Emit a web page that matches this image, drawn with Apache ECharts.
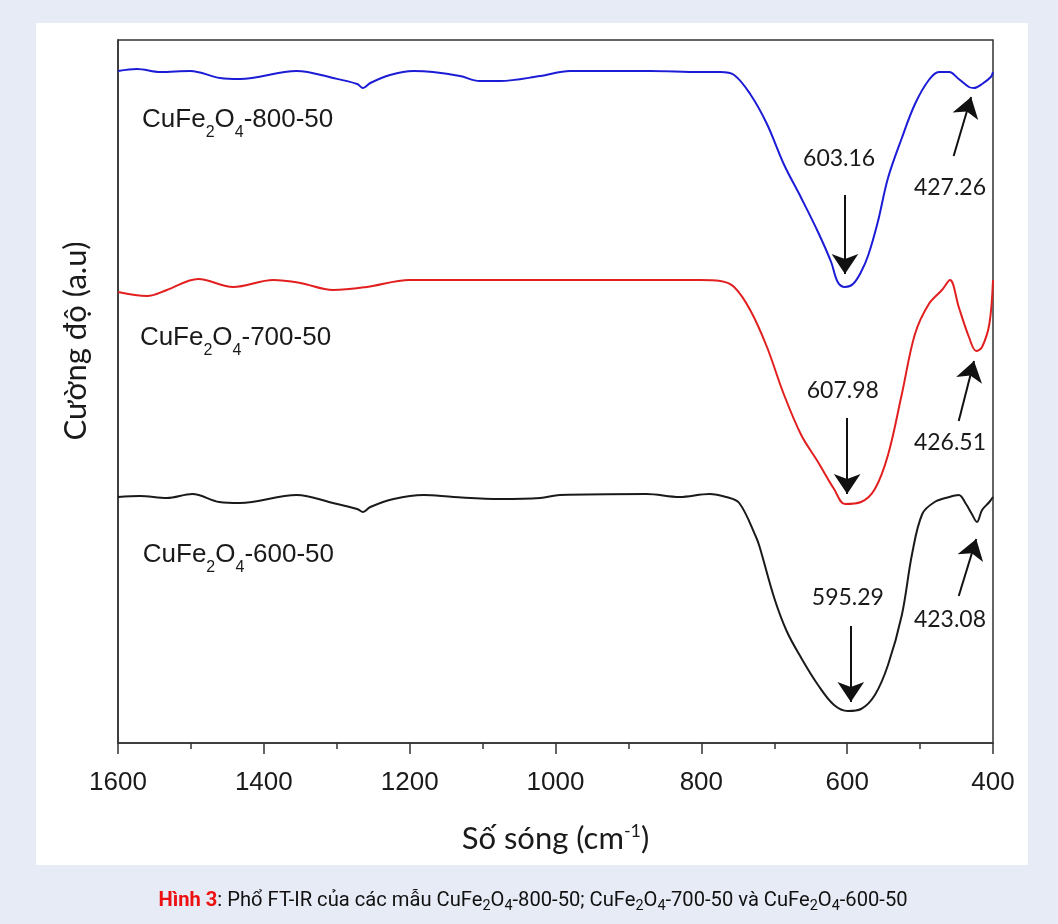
<!DOCTYPE html>
<html>
<head>
<meta charset="utf-8">
<script src="https://cdn.jsdelivr.net/npm/echarts@6/dist/echarts.min.js"></script>
<style>
  html, body { margin: 0; padding: 0; background: #e7ebf6; }
  #ftirChart { width: 1058px; height: 924px; }
</style>
</head>
<body>
<div id="ftirChart"></div>
<script>
// wavenumber (cm-1) and intensity (a.u, offset)
const wn800 = [1600, 1574, 1542, 1501, 1460, 1433, 1355, 1305, 1272, 1264, 1254, 1227, 1195, 1168, 1131, 1104, 1076, 1021, 980, 870,
    802, 774, 755, 733, 710, 687, 663, 640, 622, 613, 603, 592, 581, 571, 558, 544, 525, 507, 488, 474, 460, 447, 433, 426, 415, 403, 400];
const int800 = [67.2, 67.4, 67.1, 67.2, 66.5, 66.4, 67.2, 66.5, 65.9, 65.5, 66.0, 66.8, 67.2, 67.1, 66.7, 66.2, 66.2, 66.7, 67.2, 67.2,
    67.1, 67.1, 66.8, 64.9, 61.9, 57.9, 54.5, 51.1, 48.1, 46.1, 45.6, 45.9, 47.1, 48.8, 52.1, 56.5, 60.5, 63.9, 66.3, 67.1, 67.1, 66.4, 65.6, 65.5, 65.9, 66.6, 67.1];

const wn700 = [1600, 1560, 1533, 1490, 1442, 1387, 1350, 1305, 1259, 1200, 1076, 900, 802, 774, 755, 733, 710, 687, 663, 640,
    618, 603, 581, 562, 544, 525, 507, 488, 470, 459, 447, 433, 423, 415, 405, 400];
const int700 = [45.1, 44.7, 45.3, 46.4, 45.6, 46.3, 46.0, 45.3, 45.6, 46.3, 46.3, 46.3, 46.3, 46.2, 45.6, 43.3, 39.6, 34.9, 30.8, 28.1,
    25.4, 23.9, 24.1, 25.4, 28.8, 34.9, 40.9, 43.9, 45.3, 46.3, 43.6, 40.6, 39.2, 39.6, 41.9, 46.3];

const wn600 = [1600, 1570, 1533, 1498, 1461, 1433, 1355, 1305, 1272, 1264, 1254, 1222, 1181, 1140, 1076, 1021, 994, 875, 830, 789,
    766, 748, 725, 720, 700, 683, 663, 640, 618, 599, 581, 562, 544, 525, 511, 497, 480, 460, 447, 437, 429, 422, 415, 405, 400];
const int600 = [24.6, 24.7, 24.5, 24.9, 24.1, 24.0, 24.8, 24.0, 23.4, 23.1, 23.6, 24.4, 24.8, 24.6, 24.4, 24.5, 24.8, 24.9, 24.6, 24.9,
    24.6, 24.0, 20.6, 19.6, 14.5, 11.2, 8.5, 5.8, 3.8, 3.2, 3.4, 4.8, 7.8, 12.8, 18.9, 22.9, 24.1, 24.6, 24.8, 23.9, 22.9, 22.1, 23.3, 24.1, 24.6];

const xTicks = [1600, 1400, 1200, 1000, 800, 600, 400];

// sample name labels: [temperature, wavenumber, intensity]
const sampleLabels = [['800', 1567, 62.3], ['700', 1570, 40.5], ['600', 1566, 18.8]];
// peak labels: [text, wavenumber, intensity]
const peakLabels = [['603.16', 611, 58.4], ['427.26', 459, 55.5], ['607.98', 606, 35.2],
    ['426.51', 459, 30.0], ['595.29', 599, 14.5], ['423.08', 459, 12.3]];
// arrows: [from, to]
const peakArrows = [
    [[603, 54.8], [603, 46.9]], [[454, 58.7], [430, 64.6]],
    [[600, 32.5], [600, 24.9]], [[447, 32.2], [426, 38.2]],
    [[595, 11.7], [595, 4.1]], [[447, 14.7], [423, 20.4]]
];

const zip = (xs, ys) => xs.map((x, i) => [x, ys[i]]);

const chart = echarts.init(document.getElementById('ftirChart'));

chart.setOption({
    backgroundColor: '#e7ebf6',
    animation: false,
    grid: {
        left: 118, right: 65, top: 40, bottom: 181,
        show: true, borderColor: '#333', borderWidth: 1.5, backgroundColor: '#fff'
    },
    graphic: [
        {
            type: 'rect', z: -10, silent: true,
            shape: { x: 36, y: 23, width: 992, height: 842 },
            style: { fill: '#ffffff' }
        },
        {
            type: 'text', x: 76, y: 341, rotation: Math.PI / 2,
            style: {
                text: 'Cường độ (a.u)', fill: '#1a1a1a', font: '31px Lato',
                textAlign: 'center', textVerticalAlign: 'middle'
            }
        },
        {
            type: 'text', x: 533, y: 901, scaleX: 0.96,
            style: {
                text: '{r|Hình 3}{k|: Phổ FT-IR của các mẫu CuFe}{s|2}{k|O}{s|4}{k|-800-50; CuFe}{s|2}{k|O}{s|4}{k|-700-50 và CuFe}{s|2}{k|O}{s|4}{k|-600-50}',
                align: 'center', verticalAlign: 'middle',
                rich: {
                    r: { fontFamily: 'Roboto', fontWeight: 'bold', fontSize: 21, fill: '#ee1111' },
                    k: { fontFamily: 'Roboto', fontSize: 21, fill: '#111' },
                    s: { fontFamily: 'Roboto', fontSize: 15, fill: '#111', padding: [11, 0, 0, 0] }
                }
            }
        }
    ],
    xAxis: {
        type: 'value', inverse: true, min: 400, max: 1600, interval: 200,
        name: '{a|Số sóng (cm}{sup|-1}{a|)}',
        nameLocation: 'middle', nameGap: 79,
        nameTextStyle: {
            rich: {
                a: { fontFamily: 'Lato', fontSize: 31, color: '#1a1a1a' },
                sup: { fontFamily: 'Lato', fontSize: 18, color: '#1a1a1a', padding: [0, 0, 16, 0] }
            }
        },
        axisLine: { lineStyle: { color: '#333', width: 1.5 } },
        axisTick: { show: true, length: 11, lineStyle: { color: '#333', width: 1.5 } },
        minorTick: { show: true, splitNumber: 2, length: 6, lineStyle: { color: '#333', width: 1.5 } },
        splitLine: { show: false },
        axisLabel: {
            margin: 27, fontFamily: 'Liberation Sans', fontSize: 26, color: '#1a1a1a',
            formatter: v => xTicks.includes(v) ? String(v) : ''
        }
    },
    yAxis: {
        type: 'value', min: 0, max: 70.3,
        axisLine: { show: true, lineStyle: { color: '#333', width: 1.5 } },
        axisTick: { show: false },
        axisLabel: { show: false },
        splitLine: { show: false }
    },
    series: [
        {
            name: '800', type: 'line', data: zip(wn800, int800), smooth: 0.35, symbol: 'none',
            lineStyle: { color: '#1c1cd6', width: 2 }
        },
        {
            name: '700', type: 'line', data: zip(wn700, int700), smooth: 0.35, symbol: 'none',
            lineStyle: { color: '#e21f1f', width: 2 }
        },
        {
            name: '600', type: 'line', data: zip(wn600, int600), smooth: 0.35, symbol: 'none',
            lineStyle: { color: '#1a1a1a', width: 2 }
        },
        {
            type: 'scatter', symbolSize: 0, silent: true,
            itemStyle: { opacity: 1 },
            data: sampleLabels.map(d => [d[1], d[2], d[0]]),
            label: {
                show: true, position: 'right', distance: 0,
                formatter: p => '{n|CuFe}{s|2}{n|O}{s|4}{n|-' + p.value[2] + '-50}',
                rich: {
                    n: { fontFamily: 'Liberation Sans', fontSize: 26, color: '#1a1a1a' },
                    s: { fontFamily: 'Liberation Sans', fontSize: 16, color: '#1a1a1a', padding: [26, 0, 0, 0] }
                }
            }
        },
        {
            type: 'scatter', symbolSize: 0, silent: true,
            itemStyle: { opacity: 1 },
            data: peakLabels.map(d => [d[1], d[2], d[0]]),
            label: {
                show: true, position: 'inside',
                formatter: p => p.value[2],
                fontFamily: 'Lato', fontSize: 23, color: '#1a1a1a'
            }
        },
        {
            type: 'lines', coordinateSystem: 'cartesian2d', silent: true,
            symbol: ['none', 'arrow'], symbolSize: [12, 20],
            lineStyle: { color: '#111', width: 2, opacity: 1 },
            data: peakArrows.map(a => ({ coords: a }))
        }
    ]
});
</script>
</body>
</html>
